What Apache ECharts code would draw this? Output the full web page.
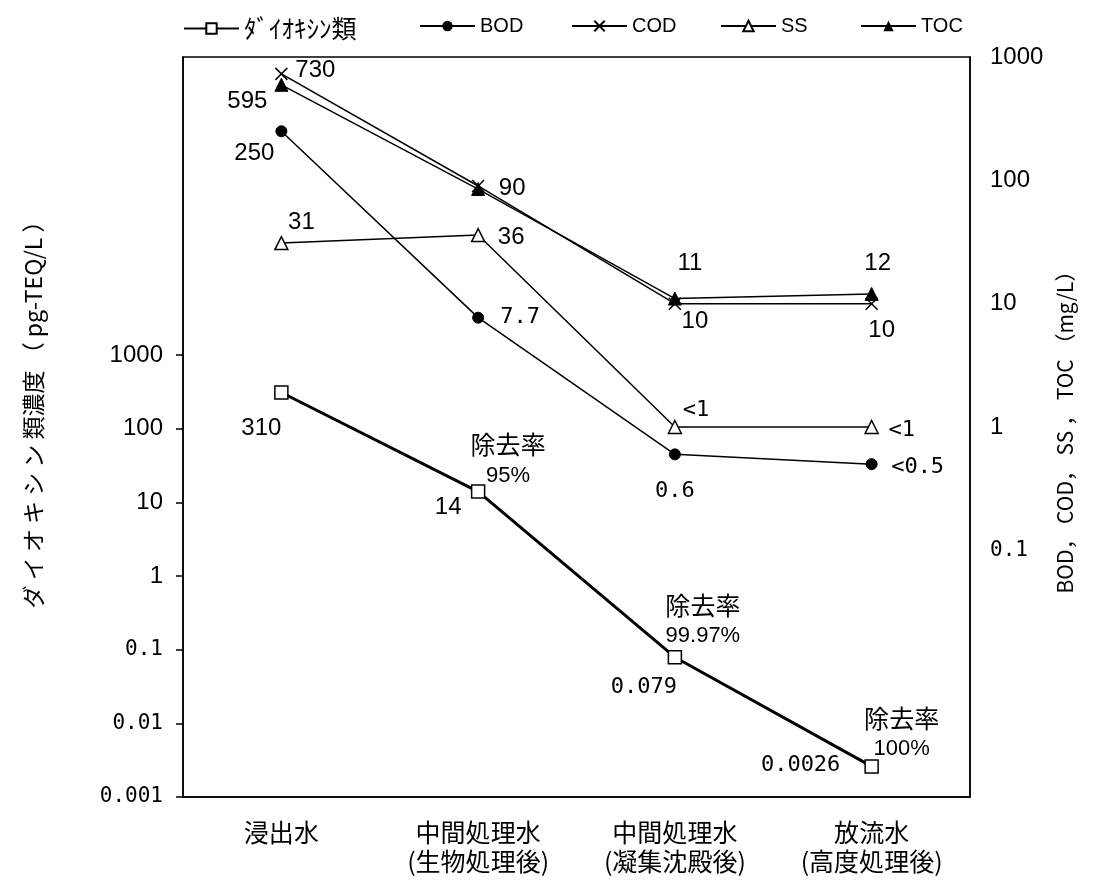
<!DOCTYPE html>
<html><head><meta charset="utf-8">
<script src="https://cdn.jsdelivr.net/npm/echarts@6/dist/echarts.min.js"></script>
<style>html,body{margin:0;padding:0;background:#fff}#c{width:1095px;height:883px}</style>
</head><body><div id="c"></div>
<script>
const categories = ['浸出水', '中間処理水\n(生物処理後)', '中間処理水\n(凝集沈殿後)', '放流水\n(高度処理後)'];
const dioxin = [310, 14, 0.079, 0.0026];
const bod = [250, 7.7, 0.6, 0.5];
const cod = [730, 90, 10, 10];
const ss = [31, 36, 1, 1];
const toc = [595, 85, 11, 12];
const dioxinLabels = ['310', '14', '0.079', '0.0026'];
const bodLabels = ['250', '7.7', '0.6', '<0.5'];
const codLabels = ['730', '90', '10', '10'];
const ssLabels = ['31', '36', '<1', '<1'];
const tocLabels = ['595', '', '11', '12'];
const removalRates = ['', '95%', '99.97%', '100%'];
const seriesNames = ['ﾀﾞｲｵｷｼﾝ類', 'BOD', 'COD', 'SS', 'TOC'];

// layout: label offsets (px) relative to each point, legend item left edges
const offs = {
  dioxin: [[-20, 36], [-30, 16], [-31, 30], [-71, -1]],
  bod: [[-27, 22], [42, 0], [0, 37], [46, 3]],
  cod: [[34, -3], [34, 2], [20, 18], [10, 27]],
  ss: [[20, -21], [33, 2], [21, -17], [30, 3]],
  toc: [[-34, 17], [0, 0], [15, -35], [6, -31]],
  removal: [[0, 0], [30, -32], [28, -37], [30, -33]]
};
const legendLefts = [183, 419, 571, 720, 860];
const SANS = '"Liberation Sans", Arial, sans-serif';
const MONO = '"DejaVu Sans Mono", monospace';
const JP = '"Noto Sans CJK JP", sans-serif';

function mkData(vals, labels, o) {
  return vals.map((v, i) => ({
    value: v,
    label: {
      show: !!labels[i], formatter: labels[i], position: 'inside', offset: o[i],
      align: 'center', verticalAlign: 'middle', color: '#000',
      fontSize: /[.<]/.test(labels[i]) ? 22 : 24,
      fontFamily: /[.<]/.test(labels[i]) ? MONO : SANS
    }
  }));
}
const crossPath = 'path://M0,0L10,10M10,0L0,10';
const thin = { color: '#000', width: 1.5 };
const tickFmt = v => v < 1 ? '{m|' + v + '}' : '{n|' + v + '}';
const tickRich = { m: { fontFamily: MONO, fontSize: 21, color: '#000' }, n: { fontFamily: SANS, fontSize: 24, color: '#000' } };
const chart = echarts.init(document.getElementById('c'));
chart.setOption({
  animation: false,
  backgroundColor: '#fff',
  textStyle: { fontFamily: SANS, color: '#000' },
  legend: seriesNames.map((n, i) => ({
    left: legendLefts[i], top: 16, padding: 0, itemGap: 0, itemWidth: 55, itemHeight: 13,
    data: [n],
    textStyle: { fontFamily: i === 0 ? JP : SANS, fontSize: i === 0 ? 25 : 20, color: '#000' }
  })),
  grid: [
    { left: 183, right: 125, top: 57, bottom: 86, show: true, borderColor: '#000', borderWidth: 1.5, backgroundColor: 'transparent' },
    { left: 183, right: 125, top: 355, bottom: 86 }
  ],
  xAxis: [
    { type: 'category', gridIndex: 0, data: categories, boundaryGap: true,
      axisLine: { lineStyle: { color: '#000', width: 1.5 } },
      axisTick: { inside: true, length: 8, lineStyle: { color: '#000', width: 1.5 } },
      axisLabel: { margin: 21, fontSize: 25, lineHeight: 29, fontFamily: JP, color: '#000' } },
    { type: 'category', gridIndex: 1, data: categories, boundaryGap: true, show: false }
  ],
  yAxis: [
    { type: 'log', gridIndex: 0, position: 'left', min: 0.001, max: 1e7, logBase: 10,
      axisLine: { show: true, lineStyle: { color: '#000', width: 1.5 } },
      axisTick: { show: false }, axisLabel: { show: false }, splitLine: { show: false },
      name: 'ダ イ オ キ シ ン 類濃度 （ pg-TEQ/L ）', nameLocation: 'middle', nameGap: 138, nameRotate: 90,
      nameTextStyle: { fontFamily: JP, fontSize: 23, color: '#000', padding: [0, 0, 0, 36] } },
    { type: 'log', gridIndex: 0, position: 'right', min: 0.001, max: 1000, logBase: 10,
      axisLine: { show: true, lineStyle: { color: '#000', width: 1.5 } },
      axisTick: { inside: true, length: 8, lineStyle: { color: '#000', width: 1.5 } },
      splitLine: { show: false },
      axisLabel: { margin: 20, formatter: v => v < 0.05 ? '' : tickFmt(v), rich: tickRich },
      name: 'BOD， COD， SS ， TOC （mg/L）', nameLocation: 'middle', nameGap: 85, nameRotate: 90,
      nameTextStyle: { fontFamily: JP, fontSize: 21, color: '#000' } },
    { type: 'log', gridIndex: 1, position: 'left', min: 0.001, max: 1000, logBase: 10,
      axisLine: { show: false },
      axisTick: { show: true, length: 7, lineStyle: { color: '#000', width: 1.5 } },
      splitLine: { show: false },
      axisLabel: { margin: 20, formatter: tickFmt, rich: tickRich } }
  ],
  series: [
    { name: seriesNames[0], type: 'line', xAxisIndex: 1, yAxisIndex: 2, z: 5,
      data: mkData(dioxin, dioxinLabels, offs.dioxin),
      symbol: 'rect', symbolSize: 13,
      itemStyle: { color: '#fff', borderColor: '#000', borderWidth: 1.5 },
      lineStyle: { color: '#000', width: 3 },
      markPoint: {
        symbol: 'circle', symbolSize: 1, itemStyle: { color: 'rgba(0,0,0,0)' },
        data: removalRates.map((r, i) => ({ coord: [i, dioxin[i]], value: r, label: { offset: offs.removal[i] } }))
          .filter(d => d.value),
        label: { show: true, position: 'inside', formatter: p => '{j|除去率}\n{n|' + p.value + '}',
          align: 'center', verticalAlign: 'middle', color: '#000',
          rich: { j: { fontFamily: JP, fontSize: 25, lineHeight: 32, color: '#000' },
                  n: { fontFamily: SANS, fontSize: 22, lineHeight: 30, color: '#000' } } }
      } },
    { name: seriesNames[1], type: 'line', xAxisIndex: 0, yAxisIndex: 1,
      data: mkData(bod, bodLabels, offs.bod), symbol: 'circle', symbolSize: 11,
      itemStyle: { color: '#000', borderColor: '#000' }, lineStyle: thin },
    { name: seriesNames[2], type: 'line', xAxisIndex: 0, yAxisIndex: 1,
      data: mkData(cod, codLabels, offs.cod), symbol: crossPath, symbolSize: 12,
      itemStyle: { color: '#000', borderColor: '#000', borderWidth: 1.5 }, lineStyle: thin },
    { name: seriesNames[3], type: 'line', xAxisIndex: 0, yAxisIndex: 1,
      data: mkData(ss, ssLabels, offs.ss), symbol: 'triangle', symbolSize: 13,
      itemStyle: { color: '#fff', borderColor: '#000', borderWidth: 1.5 }, lineStyle: thin },
    { name: seriesNames[4], type: 'line', xAxisIndex: 0, yAxisIndex: 1,
      data: mkData(toc, tocLabels, offs.toc), symbol: 'triangle', symbolSize: 13,
      itemStyle: { color: '#000', borderColor: '#000' }, lineStyle: thin }
  ]
});
</script></body></html>
